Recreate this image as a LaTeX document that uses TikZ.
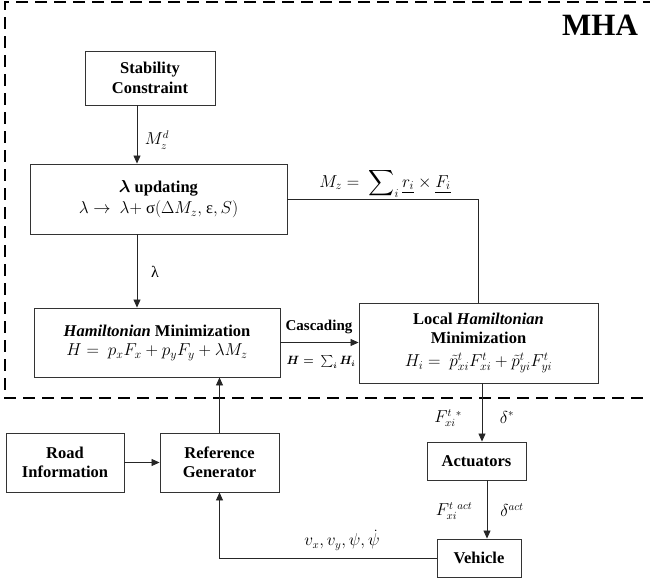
\documentclass[tikz,border=0pt]{standalone}
\usepackage{amsmath,amssymb}
\usepackage{fontspec}
\setmainfont{LiberationSerif}[Extension=.ttf,UprightFont=*-Regular,BoldFont=*-Bold,
  ItalicFont=*-Italic,BoldItalicFont=*-BoldItalic]
\usetikzlibrary{arrows.meta,calc}
\newcommand{\blkfont}{\fontsize{16.5}{19.5}\selectfont}
\newcommand{\lblfont}{\fontsize{16}{18}\selectfont}

\begin{document}
\begin{tikzpicture}[x=1pt,y=-1pt,>={Triangle[length=8pt,width=7pt]},
    blk/.style={draw=black!80,line width=0.9pt,align=center,inner sep=0pt,font=\blkfont},
    lbl/.style={font=\lblfont,inner sep=1pt},
    conn/.style={line width=0.8pt,black!85}]
    \useasboundingbox (0,0) rectangle (650,581);
    % MHA region
    \draw[line width=1.5pt,dash pattern=on 12pt off 7pt] (655,2) -- (5,2) -- (5,398) -- (655,398);
    \node[font=\fontsize{31}{34}\selectfont\bfseries] (mha) at (600,25) {MHA};
    % blocks
    \node[blk,minimum width=130,minimum height=54] (stab) at (150,78) {\textbf{Stability}\\\textbf{Constraint}};
    \node[blk,minimum width=257,minimum height=70] (lam) at (158.5,199)
       {\textbf{$\boldsymbol{\lambda}$ updating}\\[2pt] $\lambda\rightarrow\ \lambda+\ $σ$(\Delta M_z,$ ε$,S)$};
    \node[blk,minimum width=246,minimum height=69] (ham) at (157,342.5)
       {\textbf{\textit{Hamiltonian} Minimization}\\ $H=\ p_xF_x+p_yF_y+\lambda M_z$};
    \node[blk,minimum width=239,minimum height=80] (loc) at (478.5,343)
       {\textbf{Local \textit{Hamiltonian}}\\\textbf{Minimization}\\[3pt]
        $H_i=\ \tilde p^t_{xi}F^t_{xi}+\tilde p^t_{yi}F^t_{yi}$};
    \node[blk,minimum width=118,minimum height=59] (road) at (65,462.5) {\textbf{Road}\\\textbf{Information}};
    \node[blk,minimum width=119,minimum height=59] (ref) at (219.5,462.5) {\textbf{Reference}\\\textbf{Generator}};
    \node[blk,minimum width=99,minimum height=38] (act) at (476.5,461) {\textbf{Actuators}};
    \node[blk,minimum width=84,minimum height=38] (veh) at (479,558) {\textbf{Vehicle}};
    % arrow columns
    \coordinate (cA) at (137,0);
    \coordinate (cB) at (482,0);
    \coordinate (cC) at (487,0);
    % connectors
    \draw[conn,->] (stab.south -| cA) -- (lam.north -| cA);
    \draw[conn,->] (lam.south -| cA) -- (ham.north -| cA);
    \draw[conn,->] (ref.north) -- (ham.south -| ref.north);
    \draw[conn,->] (road.east) -- (ref.west);
    \draw[conn,->] (ham.east) -- (loc.west |- ham.east);
    \draw[conn] (lam.east) -| (loc.north);
    \draw[conn,->] (loc.south -| cB) -- (act.north -| cB);
    \draw[conn,->] (act.south -| cC) -- (veh.north -| cC);
    \draw[conn,->] (veh.west) -| (ref.south);
    % labels
    \node[lbl] (lMzd) at (157,140) {$M_z^d$};
    \node[lbl] (llam) at (155,272) {λ};
    \node[font=\fontsize{15}{17}\selectfont\bfseries,inner sep=1pt] (lcas) at (319,327) {Cascading};
    \node[font=\fontsize{12}{14}\selectfont,inner sep=1pt] (lHsum) at (321,362) {$\boldsymbol{H=\ \sum\nolimits_i H_i}$};
    \node[font=\fontsize{18}{20}\selectfont,inner sep=1pt] (lMz) at (385,183)
       {$M_z=\ \displaystyle\sum\nolimits_i \underline{r_i}\times\underline{F_i}$};
    \node[lbl] (lFs) at (448,418) {$F^t_{xi}{}^{*}$};
    \node[lbl] (lds) at (507,417) {$\delta^*$};
    \node[lbl] (lFa) at (454,511) {$F^t_{xi}{}^{act}$};
    \node[lbl] (lda) at (512,510) {$\delta^{act}$};
    \node[lbl] (lvel) at (342,540) {$v_x,v_y,\psi,\dot\psi$};
\end{tikzpicture}
\end{document}
